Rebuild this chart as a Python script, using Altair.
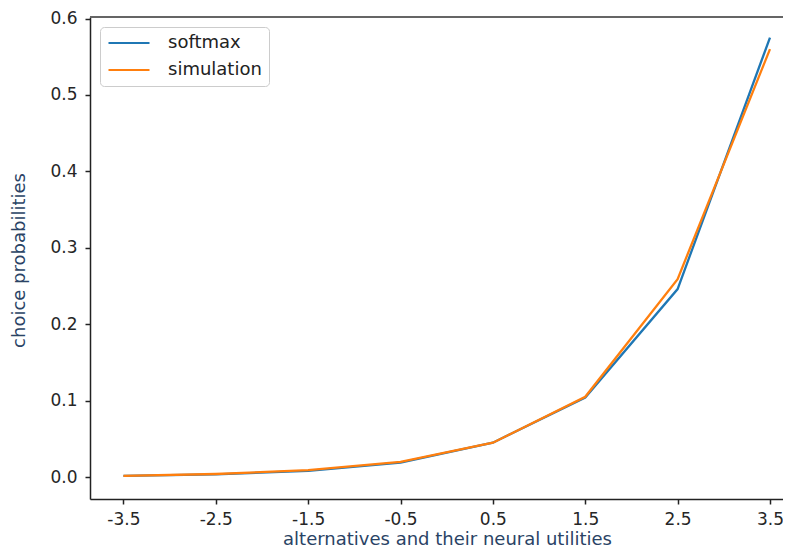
import altair as alt
import pandas as pd

utilities = [-3.5, -2.5, -1.5, -0.5, 0.5, 1.5, 2.5, 3.5]
softmax = [0.0015, 0.0035, 0.008, 0.019, 0.045, 0.104, 0.246, 0.575]
simulation = [0.0015, 0.004, 0.009, 0.020, 0.045, 0.105, 0.259, 0.560]
series_names = ["softmax", "simulation"]
series_colors = ["#1f77b4", "#ff7f0e"]
x_ticks = utilities
y_ticks = [0.0, 0.1, 0.2, 0.3, 0.4, 0.5, 0.6]

rows = []
for name, vals in zip(series_names, [softmax, simulation]):
    for u, p in zip(utilities, vals):
        rows.append({"u": u, "p": p, "series": name})
df = pd.DataFrame(rows)

FONT = "DejaVu Sans"
W, H = 693, 482
xscale = alt.Scale(domain=[-3.862, 3.641], nice=False, zero=False)
yscale = alt.Scale(domain=[-0.0287, 0.602], nice=False, zero=False)

x_axis = alt.Axis(
    values=x_ticks,
    labelExpr="replace(format(datum.value, '.1f'), '\u2212', '-')",
    grid=False,
    tickSize=5, tickWidth=1.5, tickColor="#222222",
    domainColor="#222222", domainWidth=1.5,
    labelFontSize=17, labelColor="#262626", labelPadding=7, labelFont=FONT,
    title="alternatives and their neural utilities",
    titleFontSize=18, titleFont=FONT, titleFontWeight="normal", titleColor="#2a4365",
    titleX=357, titleY=45, titleAnchor="middle", titleAlign="center", titleBaseline="alphabetic",
)
y_axis = alt.Axis(
    values=y_ticks, format=".1f",
    grid=False,
    tickSize=5, tickWidth=1.5, tickColor="#222222",
    domainColor="#222222", domainWidth=1.5,
    labelFontSize=17, labelColor="#262626", labelPadding=8, labelFont=FONT,
    title="choice probabilities",
    titleFontSize=18, titleFont=FONT, titleFontWeight="normal", titleColor="#2a4365",
    titleX=-71, titleY=243, titleAlign="center", titleBaseline="middle", titleAngle=270,
)

color = alt.Color(
    "series:N",
    scale=alt.Scale(domain=series_names, range=series_colors),
    legend=alt.Legend(
        orient="none", legendX=10, legendY=10, title=None,
        symbolType="stroke", symbolSize=1681, symbolStrokeWidth=2.2,
        clipHeight=18,
        labelFontSize=18, labelFont=FONT, labelColor="#222222", labelOffset=17,
        padding=7, rowPadding=9,
        strokeColor="#cccccc", fillColor="white", cornerRadius=4,
    ),
)

base = alt.Chart(df).mark_line(strokeWidth=2.3).encode(
    x=alt.X("u:Q", scale=xscale, axis=x_axis),
    y=alt.Y("p:Q", scale=yscale, axis=y_axis),
    color=color,
)
blue = base.transform_filter(alt.datum.series == "softmax")
orange = base.transform_filter(alt.datum.series == "simulation")

top_spine = alt.Chart(df).mark_rule(color="#666666", strokeWidth=1.5).encode(
    x=alt.value(0), x2=alt.value(W), y=alt.value(0)
)

chart = alt.layer(blue, orange, top_spine).properties(
    width=W, height=H,
    autosize=alt.AutoSizeParams(type="none"),
    padding={"left": 82, "top": 9, "right": 0, "bottom": 50},
).configure_view(stroke=None).configure(font=FONT)

chart.save("out.html", embed_options={"renderer": "svg", "actions": False})
